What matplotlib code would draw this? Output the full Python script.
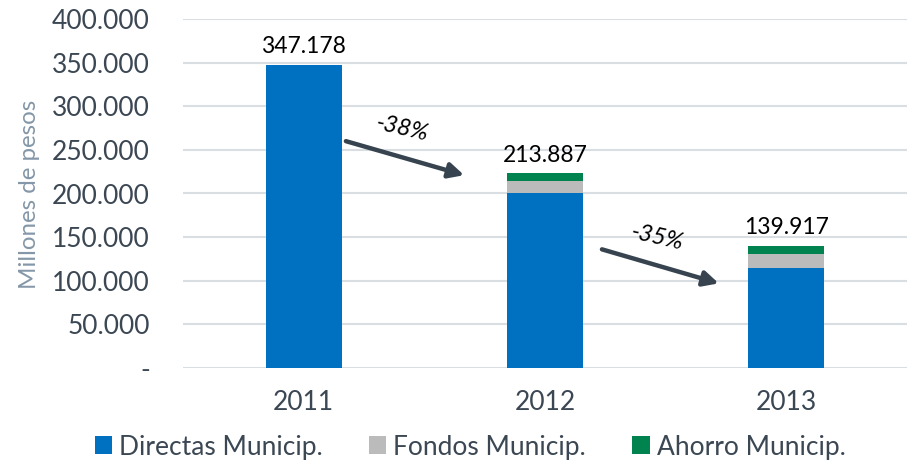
import matplotlib
matplotlib.use("Agg")
import matplotlib.pyplot as plt
from matplotlib.ticker import FuncFormatter
import numpy as np

years = ["2011", "2012", "2013"]
directas = [347178, 200500, 115000]
fondos = [0, 13387, 16000]
ahorro = [0, 9500, 9000]
total_labels = ["347.178", "213.887", "139.917"]
label_levels = [347178, 221500, 140000]
series_names = ["Directas Municip.", "Fondos Municip.", "Ahorro Municip."]
colors = ["#0070C0", "#BBBBBB", "#00834F"]

# change arrows: (start_x, start_y, end_x, end_y, label)
arrows = [
    (0.175, 260000, 0.665, 221000, "-38%"),
    (1.236, 136000, 1.72, 97000, "-35%"),
]

plt.rcParams['font.family'] = ['Lato', 'DejaVu Sans']
text_color = "#3B4753"

fig = plt.figure(figsize=(9.08, 4.62), dpi=100)
ax = fig.add_axes([183/908, 1-368/462, (907-183)/908, (368-19)/462])

x = np.arange(len(years))
w = 0.315
ax.bar(x, directas, w, color=colors[0], label=series_names[0], zorder=3)
ax.bar(x, fondos, w, bottom=directas, color=colors[1], label=series_names[1], zorder=3)
b2 = np.array(directas) + np.array(fondos)
ax.bar(x, ahorro, w, bottom=b2, color=colors[2], label=series_names[2], zorder=3)

for xi, lvl, lab in zip(x, label_levels, total_labels):
    ax.annotate(lab, (xi, lvl), xytext=(0, 6), textcoords="offset points",
                ha="center", va="bottom", fontsize=16.5, color="black")

for sx, sy, ex, ey, lab in arrows:
    ax.annotate("", xy=(ex, ey), xytext=(sx, sy),
                arrowprops=dict(arrowstyle="-|>,head_length=0.9,head_width=0.45",
                                color="#37444F", lw=3.2, shrinkA=0, shrinkB=0),
                zorder=5)
    mx, my = (sx + ex) / 2, (sy + ey) / 2
    ax.annotate(lab, (mx, my), xytext=(-2, 21), textcoords="offset points",
                ha="center", va="center", fontsize=17, style="italic",
                rotation=-13, color="black")

ax.set_xlim(-0.5, 2.5)
ax.set_ylim(0, 400000)
ax.set_yticks(np.arange(0, 400001, 50000))
ax.yaxis.set_major_formatter(FuncFormatter(
    lambda v, p: "-" if v == 0 else f"{int(v):,}".replace(",", ".")))
ax.set_xticks(x)
ax.set_xticklabels(years)
ax.tick_params(axis="y", length=0, pad=24, labelsize=19, labelcolor=text_color)
ax.tick_params(axis="x", length=0, pad=16, labelsize=19, labelcolor=text_color)
ax.grid(axis="y", color="#D9DEE3", lw=1.5, zorder=0)
for s in ax.spines.values():
    s.set_visible(False)

fig.text(30/908, 1-194/462, "Millones de pesos", rotation=90, ha="center", va="center",
         fontsize=17.4, color="#8497A8")

leg = fig.legend(loc="center left", bbox_to_anchor=(95/908, 1-447/462), ncol=3, frameon=False,
           fontsize=19, handlelength=0.65, handleheight=0.65, handletextpad=0.27,
           columnspacing=1.75, labelcolor=text_color, borderpad=0, borderaxespad=0)

fig.savefig("out.png", dpi=100)
